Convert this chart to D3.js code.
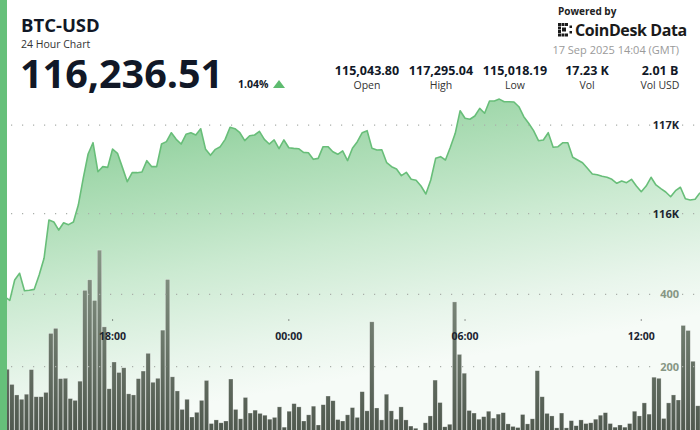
<!DOCTYPE html>
<html><head><meta charset="utf-8">
<script src="https://cdn.jsdelivr.net/npm/d3@7"></script>
<style>
html,body{margin:0;padding:0;background:#fff;}
svg{display:block;font-family:"Open Sans","Noto Sans",sans-serif;}
</style></head>
<body><svg id="c" width="700" height="430"></svg>
<script>
// ---- data ----
const symbol = "BTC-USD";
const subtitle = "24 Hour Chart";
const lastPrice = "116,236.51";
const changePct = "1.04%";
const statValues = ["115,043.80", "117,295.04", "115,018.19", "17.23 K", "2.01 B"];
const statLabels = ["Open", "High", "Low", "Vol", "Vol USD"];
const stampText = "17 Sep 2025 14:04 (GMT)";
const priceTicks = [116000, 117000];
const priceTickLabels = ["116K", "117K"];
const volTicks = [200, 400];
const startTime = Date.UTC(2025, 8, 16, 14, 10);
const endTime = Date.UTC(2025, 8, 17, 14, 0);
const prices = [
115044,115057,115018,115249,115325,115128,115133,115143,115305,115494,
115928,115905,115814,115897,115875,115905,116097,116399,116674,116802,
116474,116531,116523,116731,116682,116523,116361,116463,116463,116471,
116599,116531,116531,116787,116814,116915,116840,116787,116897,116915,
116889,116960,116727,116659,116727,116757,116840,116976,116960,116915,
116825,116881,116889,116931,116840,116787,116833,116734,116833,116745,
116738,116734,116693,116689,116614,116625,116757,116757,116700,116671,
116710,116599,116740,116813,116915,116938,116738,116719,116723,116576,
116531,116505,116429,116467,116388,116377,116312,116222,116380,116625,
116644,116606,116750,116908,117164,117078,117067,117104,117191,117135,
117274,117274,117295,117266,117266,117262,117209,117096,117022,116938,
116825,116833,116915,116750,116757,116802,116802,116637,116606,116576,
116512,116448,116440,116422,116411,116388,116343,116369,116350,116388,
116312,116248,116312,116411,116324,116282,116244,116191,116259,116298,
116169,116154,116162,116237];
const volumes = [
150,193,151,122,110,124,192,117,117,129,
292,306,167,168,112,107,160,411,440,383,
522,310,139,213,184,197,125,122,167,188,
237,157,168,301,441,172,133,82,110,61,
74,107,162,43,53,45,50,166,82,56,
115,72,80,71,66,55,60,89,33,77,
98,89,50,67,91,39,95,119,106,54,
50,67,87,60,131,78,324,86,53,124,
78,55,89,53,36,30,18,45,64,163,
101,34,41,379,234,182,79,72,55,62,
77,58,69,73,42,35,32,68,42,56,
189,117,71,64,31,72,31,51,37,53,
43,45,55,66,73,43,33,39,33,43,
77,64,100,69,171,168,57,100,122,108,
314,300,215,92];

// ---- build ----
const times = d3.utcMinute.every(10).range(new Date(startTime), new Date(endTime + 1));
const pts = times.map((t, i) => ({t, p: prices[i], v: volumes[i]}));

const svg = d3.select("#c");
const W = 700, H = 430;
const x = d3.scaleUtc().domain([new Date(startTime), new Date(endTime)]).range([0, 700]);
const xb = d3.scaleBand().domain(times.map(d => +d)).range([0, 700]).paddingInner(0.1).paddingOuter(0);
const y = d3.scaleLinear().domain([116000, 117000]).range([213.6, 125.2]);
const yv = d3.scaleLinear().domain([0, 400]).range([439.1, 294.3]);

const defs = svg.append("defs");
const ag = defs.append("linearGradient").attr("id", "ag").attr("gradientUnits", "userSpaceOnUse")
  .attr("x1", 0).attr("y1", 95).attr("x2", 60).attr("y2", 430);
[[0, "#77c587"], [0.3, "#a4d9ae"], [0.6, "#cbeAd1"], [0.85, "#e8f5eb"], [1, "#f6fbf7"]]
  .forEach(s => ag.append("stop").attr("offset", s[0]).attr("stop-color", s[1]));
const bg = defs.append("linearGradient").attr("id", "bg").attr("gradientUnits", "userSpaceOnUse")
  .attr("x1", 0).attr("y1", 245).attr("x2", 0).attr("y2", 430);
[[0, "#899888"], [1, "#50594f"]].forEach(s => bg.append("stop").attr("offset", s[0]).attr("stop-color", s[1]));

// area
svg.append("path").datum(pts)
  .attr("d", d3.area().x(d => x(d.t)).y0(H).y1(d => y(d.p)))
  .attr("fill", "url(#ag)");

// volume bars
svg.append("g").selectAll("rect").data(pts).join("rect")
  .attr("x", d => xb(+d.t)).attr("width", xb.bandwidth())
  .attr("y", d => yv(d.v)).attr("height", d => yv(0) - yv(d.v))
  .attr("fill", "url(#bg)")
  .attr("stroke", "rgba(255,255,255,0.45)").attr("stroke-width", 0.6);

// gridlines (dotted)
function grid(yy) {
  svg.append("line").attr("x1", 11).attr("x2", 654).attr("y1", yy).attr("y2", yy)
    .attr("stroke", "#a9aea9").attr("stroke-width", 1.2).attr("stroke-dasharray", "1.2,9.8");
  svg.append("line").attr("x1", 682).attr("x2", 700).attr("y1", yy).attr("y2", yy)
    .attr("stroke", "#a9aea9").attr("stroke-width", 1.2).attr("stroke-dasharray", "1.2,9.8");
}
priceTicks.forEach(v => grid(y(v)));
volTicks.forEach(v => grid(yv(v)));

// price line
svg.append("path").datum(pts)
  .attr("d", d3.line().x(d => x(d.t)).y(d => y(d.p)))
  .attr("fill", "none").attr("stroke", "#68be79").attr("stroke-width", 1.6).attr("stroke-linejoin", "round");

// y labels
svg.append("g").selectAll("text").data(priceTicks).join("text")
  .attr("x", 679).attr("y", d => y(d)).attr("dy", "0.36em").attr("text-anchor", "end")
  .attr("font-size", 11).attr("font-weight", 700).attr("fill", "#1c2430")
  .text((d, i) => priceTickLabels[i]);
svg.append("g").selectAll("text").data(volTicks).join("text")
  .attr("x", 679).attr("y", d => yv(d)).attr("dy", "0.36em").attr("text-anchor", "end")
  .attr("font-size", 11).attr("font-weight", 700).attr("fill", "#869684")
  .text(d => d);

// x axis
const xt = x.ticks(d3.utcHour.every(6));
const xa = svg.append("g");
xa.selectAll("rect").data(xt).join("rect")
  .attr("x", d => x(d) - 0.5).attr("y", 319.5).attr("width", 1).attr("height", 1).attr("fill", "#333");
xa.selectAll("text").data(xt).join("text")
  .attr("x", d => x(d)).attr("y", 340).attr("text-anchor", "middle")
  .attr("font-size", 10.5).attr("font-weight", 700).attr("fill", "#1c2430")
  .text(d => d3.utcFormat("%H:%M")(d));

// left strip
svg.append("rect").attr("x", 0).attr("y", 0).attr("width", 7).attr("height", H).attr("fill", "#66c07a");

// header
svg.append("text").attr("x", 21).attr("y", 32).attr("font-size", 18.5).attr("font-weight", 700)
  .attr("fill", "#111827").text(symbol);
svg.append("text").attr("x", 21).attr("y", 48).attr("font-size", 10.5).attr("fill", "#333")
  .text(subtitle);
svg.append("text").attr("x", 20).attr("y", 88).attr("font-size", 39.5).attr("font-weight", 700)
  .attr("fill", "#111827").text(lastPrice);
svg.append("text").attr("x", 238).attr("y", 88).attr("font-size", 10.5).attr("font-weight", 700)
  .attr("fill", "#111827").text(changePct);
svg.append("path").attr("d", "M273,88L279,80L285,88Z").attr("fill", "#5dbb6f");

const statX = [367, 441, 515, 587, 660];
const sg = svg.append("g");
sg.selectAll("text.v").data(statValues).join("text").attr("class", "v")
  .attr("x", (d, i) => statX[i]).attr("y", 74.5).attr("text-anchor", "middle")
  .attr("font-size", 12.5).attr("font-weight", 700).attr("fill", "#111827").text(d => d);
sg.selectAll("text.l").data(statLabels).join("text").attr("class", "l")
  .attr("x", (d, i) => statX[i]).attr("y", 88.5).attr("text-anchor", "middle")
  .attr("font-size", 10.5).attr("fill", "#333").text(d => d);

// powered by
svg.append("text").attr("x", 558).attr("y", 15).attr("font-size", 10).attr("font-weight", 700)
  .attr("fill", "#222").text("Powered by");
const logo = svg.append("g").attr("fill", "#1a1a1a");
[[558,23,3,3],[561.5,23,3,3],[565,23,3,3],[558,26.5,3,3],[558,30,3,3],[558,33.5,3,3],[561.5,33.5,3,3],[565,33.5,3,3],
 [562,27.5,4,4],[569.5,25.5,2.5,2.5],[569.5,31,2.5,2.5]].forEach(r =>
  logo.append("rect").attr("x", r[0]).attr("y", r[1]).attr("width", r[2]).attr("height", r[3]));
svg.append("text").attr("x", 575).attr("y", 36).attr("font-size", 16).attr("font-weight", 700)
  .attr("fill", "#1a1a1a").attr("letter-spacing", "-0.4").text("CoinDesk Data");
svg.append("text").attr("x", 679).attr("y", 54).attr("text-anchor", "end").attr("font-size", 11)
  .attr("fill", "#9a9a9a").text(stampText);
</script></body></html>
